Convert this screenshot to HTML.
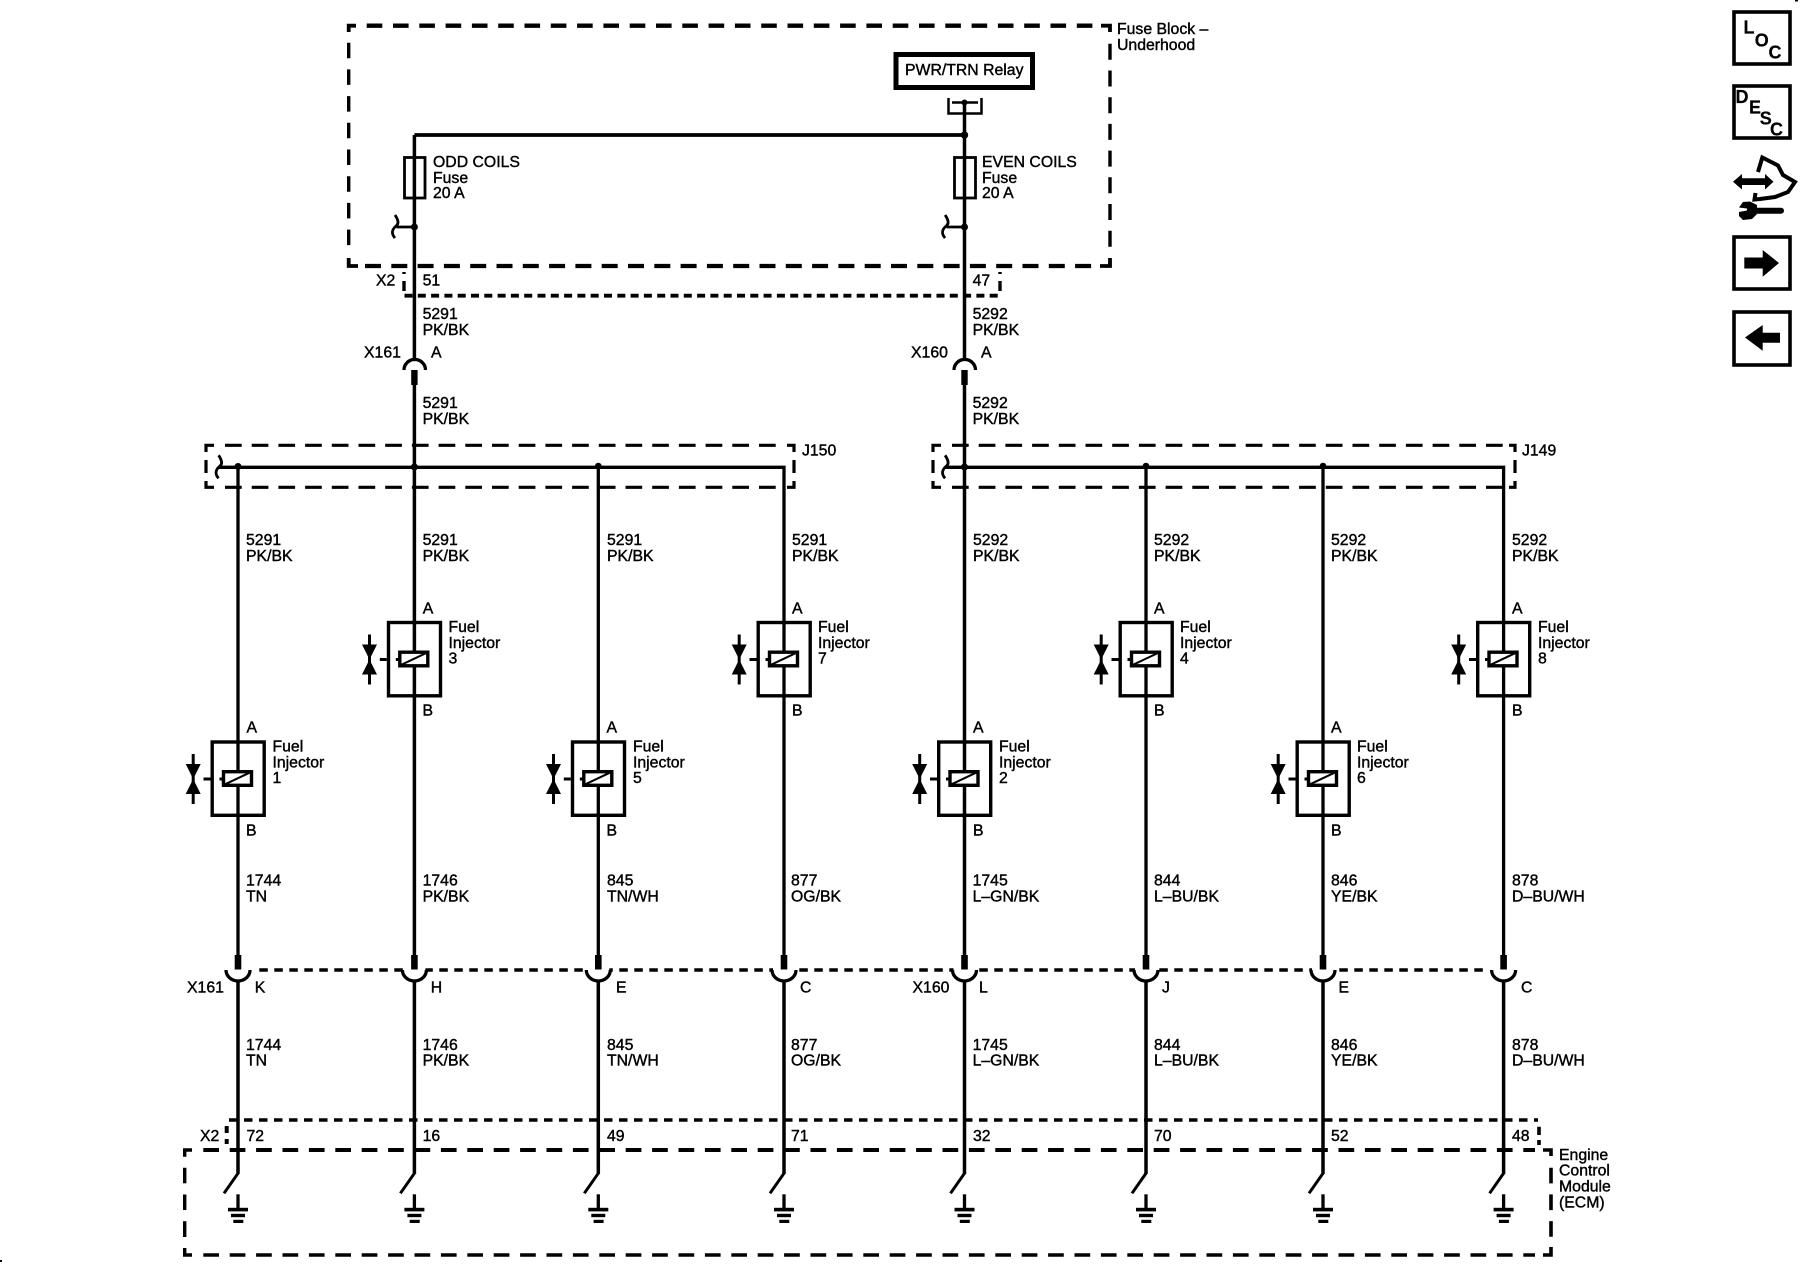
<!DOCTYPE html>
<html><head><meta charset="utf-8"><style>
html,body{margin:0;padding:0;background:#fff}
svg{display:block}
text{font-family:"Liberation Sans",sans-serif;font-size:15.8px;fill:#000;stroke:#000;stroke-width:.4px}
.b{font-weight:bold;font-size:18px;stroke-width:.2px}
</style></head><body>
<svg width="1800" height="1280" viewBox="0 0 1800 1280" xmlns="http://www.w3.org/2000/svg">
<defs>
<g id="inj">
<rect x="-26.3" y="-37" width="52" height="73.3" fill="none" stroke="#000" stroke-width="3.4"/>
<path d="M-19 0H-15M-35 0H-28" stroke="#000" stroke-width="3" fill="none"/>
<rect x="-15" y="-7.3" width="28" height="13.6" fill="#fff" stroke="#000" stroke-width="3.4"/>
<path d="M-13.5 5.3L13.2 -7.3" stroke="#000" stroke-width="2" fill="none"/>
<path d="M-45.3 -25V25" stroke="#000" stroke-width="3" fill="none"/>
<path d="M-52.8 -15H-37.8L-45.3 0ZM-52.8 15H-37.8L-45.3 0Z" fill="#000"/>
</g>
<g id="cup">
<rect x="-11" y="-4" width="22" height="8" fill="#fff"/>
<path d="M-12 0A12 11 0 0 0 12 0" fill="none" stroke="#000" stroke-width="3.3"/>
<rect x="-3.3" y="-15" width="6.6" height="14.5" fill="#000"/>
</g>
<g id="gnd">
<path d="M0 0L-14 20" stroke="#000" stroke-width="3" fill="none"/>
<path d="M0 21V35" stroke="#000" stroke-width="3.3" fill="none"/>
<rect x="-10" y="34.5" width="20" height="3.6" fill="#000"/>
<rect x="-7" y="40.5" width="14" height="3.4" fill="#000"/>
<rect x="-4.7" y="46.5" width="10" height="3.2" fill="#000"/>
</g>
<path id="hook" d="M-19.4 -12C-16 -7 -15.5 -3 -18.4 -1C-23 3 -23 7 -19.4 11M-18 0H0" fill="none" stroke="#000" stroke-width="2.8"/>
</defs>

<!-- Dashed enclosures -->
<g fill="none" stroke="#000">
<!-- Fuse block -->
<path d="M366.7 25.7H1095" stroke-width="4.3" stroke-dasharray="15.6 10.7"/>
<path d="M365 266H1092" stroke-width="4.2" stroke-dasharray="16 10.3"/>
<path d="M348.7 42.7V252" stroke-width="3.4" stroke-dasharray="15.5 11.2"/>
<path d="M1110 43.8V250" stroke-width="3.4" stroke-dasharray="16 10.7"/>
<path d="M356 25.7H348.7V32" stroke-width="3.8"/>
<path d="M1101 25.7H1110V32" stroke-width="3.8"/>
<path d="M348.7 258V266H358" stroke-width="3.8"/>
<path d="M1100 266H1110V258" stroke-width="3.8"/>
<!-- X2 top -->
<path d="M404.5 295.7H999" stroke-width="3.8" stroke-dasharray="8 5.3"/>
<path d="M404 272V274M404 281V291" stroke-width="3.4"/>
<path d="M1000 272V274M1000 281V291" stroke-width="3.4"/>
<!-- J150 -->
<path d="M225 445.3H785" stroke-width="3.2" stroke-dasharray="16.7 10"/>
<path d="M225 487.3H785" stroke-width="3.2" stroke-dasharray="16.7 10"/>
<path d="M214 445.3H206V452M206 460V473M206 481V487.3H214" stroke-width="3.2"/>
<path d="M787 445.3H794V452M794 460V473M794 481V487.3H787" stroke-width="3.2"/>
<!-- J149 -->
<path d="M952 445.3H1508" stroke-width="3.2" stroke-dasharray="16.7 10"/>
<path d="M952 487.3H1508" stroke-width="3.2" stroke-dasharray="16.7 10"/>
<path d="M941 445.3H933V452M933 460V473M933 481V487.3H941" stroke-width="3.2"/>
<path d="M1509 445.3H1515V452M1515 460V473M1515 481V487.3H1509" stroke-width="3.2"/>
<!-- X161/X160 row -->
<path d="M259.3 970H1484" stroke-width="3.6" stroke-dasharray="8.5 6.5"/>
<!-- X2 bottom -->
<path d="M229 1120H1538" stroke-width="3.6" stroke-dasharray="8.5 6.5"/>
<path d="M226.7 1126V1133M226.7 1139V1144" stroke-width="4"/>
<path d="M1539 1126.7V1135M1539 1140V1145" stroke-width="3.6"/>
<!-- ECM -->
<path d="M203.3 1150H1535" stroke-width="4" stroke-dasharray="15.7 10.7"/>
<path d="M203.3 1255H1535" stroke-width="3.4" stroke-dasharray="15.7 10.7"/>
<path d="M192 1150H184.7V1156.7M184.7 1167.7V1240" stroke-width="3.4" stroke-dasharray="none"/>
<path d="M1543 1150H1551V1156" stroke-width="3.6"/>
<path d="M184.7 1248V1255H192" stroke-width="3.4"/>
<path d="M1551 1247V1255H1543" stroke-width="3.6"/>
</g>
<!-- side dashes for ECM: overlay gaps -->
<g fill="#fff">
<rect x="182" y="1183.3" width="6" height="11.2"/>
<rect x="182" y="1210" width="6" height="11.2"/>
<rect x="182" y="1237" width="6" height="11"/>
</g>
<path d="M1551 1167.7V1240" fill="none" stroke="#000" stroke-width="3.6" stroke-dasharray="15.7 11"/>

<!-- Wires -->
<g fill="none" stroke="#000" stroke-width="3.5">
<path d="M414.4 135H964.5" stroke-width="3.8"/>
<path d="M964.5 102V360M964.5 384V955M414.4 135V360M414.4 384V955"/>
<path d="M218 467.3H784V955M238 467.3V955M598.3 467.3V955" stroke-width="3.3"/>
<path d="M945 467.3H1503.6V955M1146 467.3V955M1323 467.3V955" stroke-width="3.3"/>
<path d="M238 980V1174M414.4 980V1174M598.3 980V1174M784 980V1174M964.5 980V1174M1146 980V1174M1323 980V1174M1503.6 980V1174"/>
</g>

<!-- Relay -->
<rect x="896" y="54.5" width="136.5" height="33" fill="#fff" stroke="#000" stroke-width="5"/>
<text x="905" y="75">PWR/TRN Relay</text>
<path d="M948.5 98V113.5H981.5V98" fill="none" stroke="#000" stroke-width="2.5"/>
<path d="M952 102.5H978" stroke="#000" stroke-width="2.5"/>
<circle cx="964.5" cy="102.5" r="3" fill="#000"/>
<circle cx="964.5" cy="135" r="3.7" fill="#000"/>

<!-- Fuses -->
<g fill="none" stroke="#000" stroke-width="2.8">
<rect x="404.5" y="157.5" width="20.5" height="40.5"/>
<rect x="954.5" y="157.5" width="21" height="40.5"/>
</g>
<text x="433" y="167">ODD COILS</text><text x="433" y="183">Fuse</text><text x="433" y="198">20 A</text>
<text x="982" y="167">EVEN COILS</text><text x="982" y="183">Fuse</text><text x="982" y="198">20 A</text>
<use href="#hook" x="414.4" y="227"/><circle cx="414.4" cy="227" r="3.5" fill="#000"/>
<use href="#hook" x="964.5" y="227"/><circle cx="964.5" cy="227" r="3.5" fill="#000"/>

<text x="1117" y="34">Fuse Block –</text><text x="1117" y="50">Underhood</text>
<text x="376" y="285.5">X2</text><text x="422.6" y="285.5">51</text><text x="972.6" y="285.5">47</text>
<text x="422.6" y="319">5291</text><text x="422.6" y="335">PK/BK</text>
<text x="972.6" y="319">5292</text><text x="972.6" y="335">PK/BK</text>
<text x="364" y="357.5">X161</text><text x="431" y="357.5">A</text>
<text x="911" y="357.5">X160</text><text x="981" y="357.5">A</text>

<!-- Inline connectors (top) -->
<g fill="none" stroke="#000" stroke-width="3.3">
<path d="M404 370A10.7 10.5 0 0 1 425.5 370"/>
<path d="M954 370A10.7 10.5 0 0 1 975.5 370"/>
</g>
<rect x="411.2" y="370" width="6.4" height="15" fill="#000"/>
<rect x="961.3" y="370" width="6.4" height="15" fill="#000"/>
<text x="422.6" y="408">5291</text><text x="422.6" y="424">PK/BK</text>
<text x="972.6" y="408">5292</text><text x="972.6" y="424">PK/BK</text>

<!-- Splice packs -->
<text x="802" y="455.5">J150</text><text x="1522" y="455.5">J149</text>
<use href="#hook" x="238" y="467.3"/>
<use href="#hook" x="964.5" y="467.3"/>
<g fill="#000">
<circle cx="238" cy="466.5" r="3.5"/><circle cx="414.4" cy="467" r="3.6"/><circle cx="598.3" cy="466" r="3.3"/>
<circle cx="964.5" cy="467" r="3.6"/><circle cx="1146" cy="466" r="3.3"/><circle cx="1323" cy="466" r="3.3"/>
</g>

<!-- Top wire labels -->
<text x="246" y="545">5291</text><text x="246" y="561">PK/BK</text>
<text x="422.6" y="545">5291</text><text x="422.6" y="561">PK/BK</text>
<text x="607" y="545">5291</text><text x="607" y="561">PK/BK</text>
<text x="792" y="545">5291</text><text x="792" y="561">PK/BK</text>
<text x="973" y="545">5292</text><text x="973" y="561">PK/BK</text>
<text x="1154" y="545">5292</text><text x="1154" y="561">PK/BK</text>
<text x="1331" y="545">5292</text><text x="1331" y="561">PK/BK</text>
<text x="1512" y="545">5292</text><text x="1512" y="561">PK/BK</text>

<!-- Injectors -->
<use href="#inj" x="238.5" y="779"/>
<use href="#inj" x="414.8" y="659.5"/>
<use href="#inj" x="598.8" y="779"/>
<use href="#inj" x="784.5" y="659.5"/>
<use href="#inj" x="965" y="779"/>
<use href="#inj" x="1146.5" y="659.5"/>
<use href="#inj" x="1323.5" y="779"/>
<use href="#inj" x="1504" y="659.5"/>

<text x="246.5" y="732.7">A</text><text x="246" y="835.7">B</text>
<text x="272.5" y="751.7">Fuel</text><text x="272.5" y="767.7">Injector</text><text x="272.5" y="783">1</text>
<text x="422.8" y="613.3">A</text><text x="422.5" y="715.7">B</text>
<text x="448.5" y="632">Fuel</text><text x="448.5" y="648">Injector</text><text x="448.5" y="663.7">3</text>
<text x="606.5" y="732.7">A</text><text x="606.5" y="835.7">B</text>
<text x="633" y="751.7">Fuel</text><text x="633" y="767.7">Injector</text><text x="633" y="783">5</text>
<text x="792" y="613.3">A</text><text x="792" y="715.7">B</text>
<text x="818" y="632">Fuel</text><text x="818" y="648">Injector</text><text x="818" y="663.7">7</text>
<text x="973" y="732.7">A</text><text x="973" y="835.7">B</text>
<text x="999" y="751.7">Fuel</text><text x="999" y="767.7">Injector</text><text x="999" y="783">2</text>
<text x="1154" y="613.3">A</text><text x="1154" y="715.7">B</text>
<text x="1180" y="632">Fuel</text><text x="1180" y="648">Injector</text><text x="1180" y="663.7">4</text>
<text x="1331" y="732.7">A</text><text x="1331" y="835.7">B</text>
<text x="1357" y="751.7">Fuel</text><text x="1357" y="767.7">Injector</text><text x="1357" y="783">6</text>
<text x="1512" y="613.3">A</text><text x="1512" y="715.7">B</text>
<text x="1538" y="632">Fuel</text><text x="1538" y="648">Injector</text><text x="1538" y="663.7">8</text>

<!-- Wire labels after injectors -->
<text x="246" y="885.7">1744</text><text x="246" y="901.7">TN</text>
<text x="422.6" y="885.7">1746</text><text x="422.6" y="901.7">PK/BK</text>
<text x="607" y="885.7">845</text><text x="607" y="901.7">TN/WH</text>
<text x="791" y="885.7">877</text><text x="791" y="901.7">OG/BK</text>
<text x="972.6" y="885.7">1745</text><text x="972.6" y="901.7">L–GN/BK</text>
<text x="1154" y="885.7">844</text><text x="1154" y="901.7">L–BU/BK</text>
<text x="1331" y="885.7">846</text><text x="1331" y="901.7">YE/BK</text>
<text x="1512" y="885.7">878</text><text x="1512" y="901.7">D–BU/WH</text>

<!-- Inline connectors (middle) -->
<use href="#cup" x="238" y="970"/><use href="#cup" x="414.4" y="970"/><use href="#cup" x="598.3" y="970"/><use href="#cup" x="784" y="970"/>
<use href="#cup" x="964.5" y="970"/><use href="#cup" x="1146" y="970"/><use href="#cup" x="1323" y="970"/><use href="#cup" x="1503.6" y="970"/>
<text x="187" y="992.7">X161</text><text x="254.7" y="992.7">K</text><text x="430.7" y="992.7">H</text><text x="616" y="992.7">E</text><text x="800" y="992.7">C</text>
<text x="912.5" y="992.7">X160</text><text x="979" y="992.7">L</text><text x="1162" y="992.7">J</text><text x="1338.5" y="992.7">E</text><text x="1521" y="992.7">C</text>

<text x="246" y="1050">1744</text><text x="246" y="1065.7">TN</text>
<text x="422.6" y="1050">1746</text><text x="422.6" y="1065.7">PK/BK</text>
<text x="607" y="1050">845</text><text x="607" y="1065.7">TN/WH</text>
<text x="791" y="1050">877</text><text x="791" y="1065.7">OG/BK</text>
<text x="972.6" y="1050">1745</text><text x="972.6" y="1065.7">L–GN/BK</text>
<text x="1154" y="1050">844</text><text x="1154" y="1065.7">L–BU/BK</text>
<text x="1331" y="1050">846</text><text x="1331" y="1065.7">YE/BK</text>
<text x="1512" y="1050">878</text><text x="1512" y="1065.7">D–BU/WH</text>

<!-- ECM -->
<text x="200" y="1141">X2</text><text x="246.5" y="1141">72</text><text x="422.6" y="1141">16</text><text x="607" y="1141">49</text><text x="791" y="1141">71</text>
<text x="973" y="1141">32</text><text x="1154" y="1141">70</text><text x="1331" y="1141">52</text><text x="1512" y="1141">48</text>
<use href="#gnd" x="238" y="1173.3"/><use href="#gnd" x="414.4" y="1173.3"/><use href="#gnd" x="598.3" y="1173.3"/><use href="#gnd" x="784" y="1173.3"/>
<use href="#gnd" x="964.5" y="1173.3"/><use href="#gnd" x="1146" y="1173.3"/><use href="#gnd" x="1323" y="1173.3"/><use href="#gnd" x="1503.6" y="1173.3"/>
<text x="1559" y="1160">Engine</text><text x="1559" y="1175.5">Control</text><text x="1559" y="1191.7">Module</text><text x="1559" y="1207.7">(ECM)</text>

<!-- Side icons -->
<g fill="none" stroke="#000" stroke-width="3.6">
<rect x="1734" y="12" width="56" height="52"/>
<rect x="1734" y="86" width="56" height="52"/>
<rect x="1734" y="237" width="56" height="52"/>
<rect x="1734" y="312" width="56" height="53"/>
</g>
<text class="b" x="1743.5" y="33.5">L</text><text class="b" x="1754.7" y="46.5">O</text><text class="b" x="1768.5" y="58.5">C</text>
<text class="b" x="1735.5" y="103">D</text><text class="b" x="1749" y="113.5">E</text><text class="b" x="1759.7" y="124.5">S</text><text class="b" x="1770" y="135.5">C</text>
<path d="M1733 181.7L1742 174V178.3H1765V174L1773.5 181.7L1765 189.5V185H1742V189.5Z" fill="#000"/>
<path d="M1758 172L1762.3 157.5L1778 165.5L1783 175L1795 182L1788 192L1775 197L1760 199L1754.5 199.5L1755.5 193" fill="none" stroke="#000" stroke-width="4"/>
<path d="M1753 210.7H1781" stroke="#000" stroke-width="6" stroke-linecap="round" fill="none"/>
<path d="M1743 202L1750 201.5L1757 205V214L1752 219L1743 220L1739 216L1739 212L1747 210.5V208.5L1739 207.5Z" fill="#000"/>
<path d="M1744.3 257.5H1762.7V250L1779 263L1762.7 276.7V268.5H1744.3Z" fill="#000"/>
<path d="M1745 337.5L1762.7 325V332.7H1780V342.7H1762.7V350.7Z" fill="#000"/>
<rect x="1795" y="0" width="3" height="1.5" fill="#000"/>
<rect x="0" y="1260" width="2" height="2" fill="#000"/>
</svg>
</body></html>
